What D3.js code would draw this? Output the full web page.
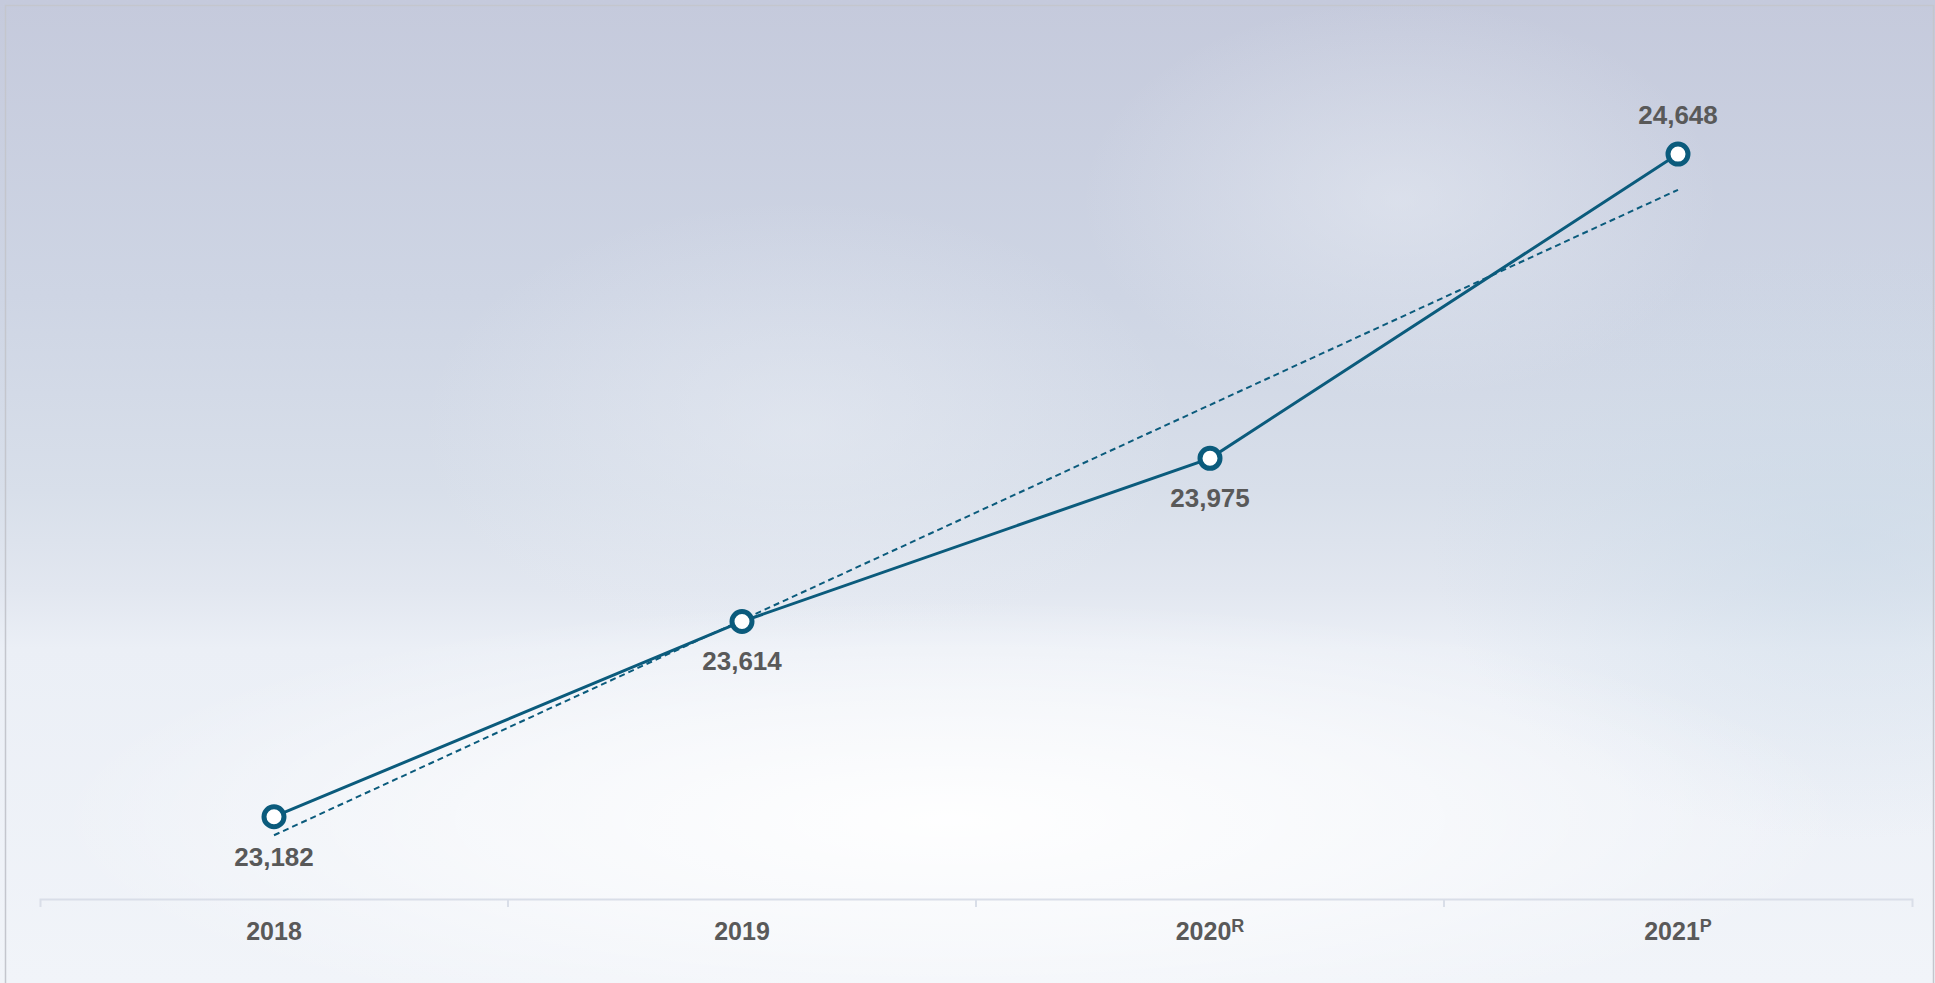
<!DOCTYPE html>
<html>
<head>
<meta charset="utf-8">
<script src="https://cdn.jsdelivr.net/npm/d3@7"></script>
<style>
    html, body { margin: 0; padding: 0; overflow: hidden; background: #eef1f7; }
    svg { display: block; font-family: "Liberation Sans", Arial, sans-serif; }
</style>
</head>
<body>
<div id="chart"></div>
<script>
(function () {
    // data
    const years = ["2018", "2019", "2020", "2021"];
    const yearMarks = ["", "", "R", "P"];
    const values = [23182, 23614, 23975, 24648];
    // linear trend line, value at first and last year
    const trendValues = [23141, 24569];
    const labelSide = ["below", "below", "below", "above"];

    const width = 1935;
    const height = 983;
    const axisY = 899;
    const lineColor = "#0b5b7c";
    const textColor = "#595959";

    const fmt = d3.format(",");

    const svg = d3.select("#chart").append("svg")
        .attr("width", width)
        .attr("height", height);

    // background
    const defs = svg.append("defs");
    const bg = defs.append("linearGradient")
        .attr("id", "bg").attr("x1", 0).attr("y1", 0).attr("x2", 0).attr("y2", 1);
    [[0, "#c5cadc"], [0.3, "#ced5e4"], [0.5, "#d8dfea"], [0.6, "#e2e7f0"], [0.66, "#ebeff6"], [1, "#f1f4f9"]]
        .forEach(s => bg.append("stop").attr("offset", s[0]).attr("stop-color", s[1]));

    const glow = defs.append("radialGradient")
        .attr("id", "glow").attr("cx", 0.5).attr("cy", 0.5).attr("r", 0.5);
    glow.append("stop").attr("offset", 0).attr("stop-color", "#ffffff").attr("stop-opacity", 0.95);
    glow.append("stop").attr("offset", 0.55).attr("stop-color", "#ffffff").attr("stop-opacity", 0.5);
    glow.append("stop").attr("offset", 1).attr("stop-color", "#ffffff").attr("stop-opacity", 0);

    const swoosh = defs.append("radialGradient")
        .attr("id", "swoosh").attr("cx", 0.5).attr("cy", 0.5).attr("r", 0.5);
    swoosh.append("stop").attr("offset", 0).attr("stop-color", "#eaeef5").attr("stop-opacity", 0.5);
    swoosh.append("stop").attr("offset", 1).attr("stop-color", "#eaeef5").attr("stop-opacity", 0);

    const blue = defs.append("radialGradient")
        .attr("id", "bluetint").attr("cx", 0.5).attr("cy", 0.5).attr("r", 0.5);
    blue.append("stop").attr("offset", 0).attr("stop-color", "#cbdae8").attr("stop-opacity", 0.6);
    blue.append("stop").attr("offset", 1).attr("stop-color", "#cbdae8").attr("stop-opacity", 0);

    svg.append("rect").attr("width", width).attr("height", height).attr("fill", "url(#bg)");
    svg.append("ellipse").attr("cx", 800).attr("cy", 430).attr("rx", 380).attr("ry", 230).attr("fill", "url(#swoosh)");
    svg.append("ellipse").attr("cx", 1400).attr("cy", 200).attr("rx", 320).attr("ry", 200).attr("fill", "url(#swoosh)");
    svg.append("ellipse").attr("cx", 1850).attr("cy", 540).attr("rx", 420).attr("ry", 300).attr("fill", "url(#bluetint)");
    svg.append("ellipse").attr("cx", 950).attr("cy", 820).attr("rx", 900).attr("ry", 220).attr("fill", "url(#glow)");

    // frame
    svg.append("rect")
        .attr("x", 5.5).attr("y", 5.5)
        .attr("width", width - 7).attr("height", height)
        .attr("fill", "none")
        .attr("stroke", "#c4c6cd")
        .attr("stroke-width", 1.5);

    // scales
    const x = d3.scaleBand().domain(years).range([40, 1912]);
    const y = d3.scaleLinear().domain([23000, 25000]).range([axisY, -5]);
    const cx = d => x(d) + x.bandwidth() / 2;

    // x axis
    const xAxis = d3.axisBottom(x).tickSizeInner(0).tickSizeOuter(8);
    const gx = svg.append("g")
        .attr("transform", "translate(0," + axisY + ")")
        .call(xAxis);
    gx.select(".domain")
        .attr("stroke", "#d9dee8")
        .attr("stroke-width", 2);
    gx.selectAll(".tick line").remove();
    gx.selectAll(".tick text")
        .attr("y", 41)
        .attr("dy", null)
        .attr("fill", textColor)
        .attr("font-size", 25)
        .attr("font-weight", "bold")
        .attr("font-family", "'Liberation Sans', Arial, sans-serif")
        .text(null)
        .each(function (d, i) {
            const t = d3.select(this);
            t.append("tspan").text(d);
            if (yearMarks[i]) {
                t.append("tspan")
                    .attr("font-size", 18)
                    .attr("dy", -8)
                    .text(yearMarks[i]);
            }
        });
    // boundary ticks between the categories
    gx.selectAll(".sep")
        .data(years.slice(1))
        .join("line")
        .attr("class", "sep")
        .attr("x1", d => x(d)).attr("x2", d => x(d))
        .attr("y1", 0).attr("y2", 8)
        .attr("stroke", "#d9dee8")
        .attr("stroke-width", 2);

    // trend line
    svg.append("line")
        .attr("x1", cx(years[0]))
        .attr("y1", y(trendValues[0]))
        .attr("x2", cx(years[years.length - 1]))
        .attr("y2", y(trendValues[1]))
        .attr("stroke", lineColor)
        .attr("stroke-width", 2)
        .attr("stroke-dasharray", "6,4");

    // main line
    const line = d3.line()
        .x((d, i) => cx(years[i]))
        .y(d => y(d));
    svg.append("path")
        .datum(values)
        .attr("d", line)
        .attr("fill", "none")
        .attr("stroke", lineColor)
        .attr("stroke-width", 3);

    // markers
    svg.selectAll(".pt")
        .data(values)
        .join("circle")
        .attr("class", "pt")
        .attr("cx", (d, i) => cx(years[i]))
        .attr("cy", d => y(d))
        .attr("r", 10)
        .attr("fill", "#ffffff")
        .attr("stroke", lineColor)
        .attr("stroke-width", 5);

    // value labels
    svg.selectAll(".val")
        .data(values)
        .join("text")
        .attr("class", "val")
        .attr("x", (d, i) => cx(years[i]))
        .attr("y", (d, i) => y(d) + (labelSide[i] === "above" ? -30 : 49))
        .attr("text-anchor", "middle")
        .attr("fill", textColor)
        .attr("font-size", 26)
        .attr("font-weight", "bold")
        .text(d => fmt(d));
})();
</script>
</body>
</html>
